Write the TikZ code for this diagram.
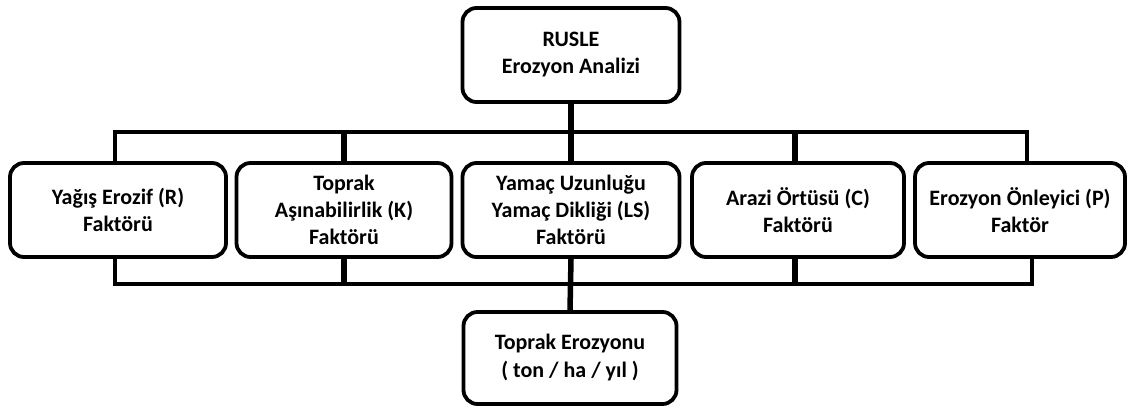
\documentclass[tikz,border=0pt]{standalone}
\usepackage{fontspec}
\setmainfont{Carlito}
\begin{document}
\begin{tikzpicture}[x=1pt,y=-1pt,
  box/.style={draw=black, line width=3.8pt, rounded corners=14pt, fill=white,
    align=center, font=\bfseries\fontsize{22}{27}\selectfont, inner sep=0pt},
  conn/.style={draw=black, line width=5.5pt},
  bus/.style={draw=black, line width=4.2pt}]
\useasboundingbox (0,0) rectangle (1129,408);
\coordinate (tl) at (115,132);
\coordinate (tr) at (1027,132);
\coordinate (bl) at (115,284);
\coordinate (br) at (1032,284);
\coordinate (cmid) at (795,132);
\coordinate (cmidb) at (795,284);
\node[box, minimum width=217pt, minimum height=94pt] (top) at (571,55) {RUSLE\\Erozyon Analizi};
\node[box, minimum width=216pt, minimum height=94pt] (r) at (118,210) {Yağış Erozif (R)\\Faktörü};
\node[box, minimum width=215pt, minimum height=94pt] (k) at (344,210) {Toprak\\Aşınabilirlik (K)\\Faktörü};
\node[box, minimum width=217pt, minimum height=94pt] (ls) at (571,210) {Yamaç Uzunluğu\\Yamaç Dikliği (LS)\\Faktörü};
\node[box, minimum width=212pt, minimum height=94pt] (c) at (798,210) {Arazi Örtüsü (C)\\Faktörü};
\node[box, minimum width=210pt, minimum height=94pt] (p) at (1020,210) {Erozyon Önleyici (P)\\Faktör};
\node[box, minimum width=213pt, minimum height=92pt, font=\bfseries\fontsize{22}{28}\selectfont] (out) at (570,358) {\raisebox{-3pt}{Toprak Erozyonu}\\\raisebox{-3pt}{( ton / ha / yıl )}};
% top bus
\draw[bus] (tl |- r.north) -- (tl) -- (tr) -- (tr |- p.north);
\draw[conn] (top.south) -- (ls.north);
\draw[conn] (k.north) -- (k.north |- tl);
\draw[conn] (cmid) -- (cmid |- c.north);
% bottom bus
\draw[bus] (bl |- r.south) -- (bl) -- (br) -- (br |- p.south);
\draw[conn] (ls.south) -- (out.north);
\draw[conn] (k.south) -- (k.south |- bl);
\draw[conn] (cmidb |- c.south) -- (cmidb);
\end{tikzpicture}
\end{document}
